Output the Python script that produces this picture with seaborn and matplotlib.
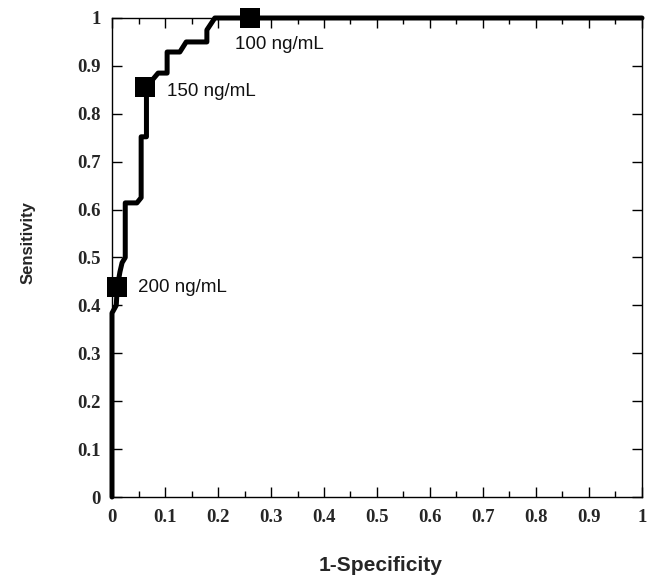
import matplotlib
matplotlib.use("Agg")
import matplotlib.pyplot as plt
import seaborn as sns
import pandas as pd
from matplotlib.ticker import MultipleLocator, FormatStrFormatter

# ROC curve
fpr = [0.0, 0.0, 0.008, 0.010, 0.015, 0.019, 0.025, 0.025, 0.047, 0.055,
       0.055, 0.065, 0.065, 0.087, 0.104, 0.104, 0.128, 0.140, 0.179, 0.179,
       0.194, 1.0]
tpr = [0.0, 0.384, 0.400, 0.438, 0.470, 0.489, 0.500, 0.614, 0.614, 0.625,
       0.752, 0.752, 0.856, 0.885, 0.885, 0.929, 0.929, 0.950, 0.950, 0.975,
       1.0, 1.0]

# cut-off points
cut_fpr = [0.26, 0.062, 0.010]
cut_tpr = [1.0, 0.856, 0.438]
cut_labels = ["100 ng/mL", "150 ng/mL", "200 ng/mL"]

roc = pd.DataFrame({"fpr": fpr, "tpr": tpr})
cuts = pd.DataFrame({"fpr": cut_fpr, "tpr": cut_tpr, "label": cut_labels})

sns.set_style("ticks")
fig = plt.figure(figsize=(6.54, 5.77), dpi=100)
ax = fig.add_axes([112 / 654, 80 / 577, 530 / 654, 479 / 577])

sns.lineplot(data=roc, x="fpr", y="tpr", sort=False, estimator=None,
             color="black", linewidth=3.6, ax=ax, clip_on=False, zorder=3)
sns.scatterplot(data=cuts, x="fpr", y="tpr", marker="s", s=200, color="black",
                edgecolor="black", linewidth=0, ax=ax, clip_on=False, zorder=4)

offsets = [(-11, -19), (16, -3.5), (15, 0)]
for (_, row), off in zip(cuts.iterrows(), offsets):
    ax.annotate(row["label"], xy=(row["fpr"], row["tpr"]), xytext=off,
                textcoords="offset points", ha="left", va="center",
                fontsize=13.5, family="Liberation Sans", color="#111111")

ax.set_xlim(0, 1)
ax.set_ylim(0, 1)
ax.xaxis.set_major_locator(MultipleLocator(0.1))
ax.xaxis.set_minor_locator(MultipleLocator(0.05))
ax.yaxis.set_major_locator(MultipleLocator(0.1))
ax.xaxis.set_major_formatter(FormatStrFormatter("%g"))
ax.yaxis.set_major_formatter(FormatStrFormatter("%g"))
ax.tick_params(which="both", direction="in", top=True, right=True,
               color="black", width=1.0)
ax.tick_params(which="major", length=7)
ax.tick_params(which="minor", length=4)
ax.tick_params(axis="x", which="major", pad=9)
ax.tick_params(axis="y", which="major", pad=8)
for lab in ax.get_xticklabels() + ax.get_yticklabels():
    lab.set_family("Liberation Serif")
    lab.set_fontweight("bold")
    lab.set_fontsize(13.5)

for sp in ax.spines.values():
    sp.set_visible(True)
    sp.set_linewidth(1.0)
    sp.set_color("black")

ax.set_xlabel("1-Specificity", fontsize=15, fontweight="bold",
              family="Liberation Sans", va="center")
ax.set_ylabel("Sensitivity", fontsize=12, fontweight="bold",
              family="Liberation Sans", va="center")
ax.xaxis.set_label_coords(0.506, -0.144)
ax.yaxis.set_label_coords(-0.158, 0.532)

fig.savefig("out.png", dpi=100)
